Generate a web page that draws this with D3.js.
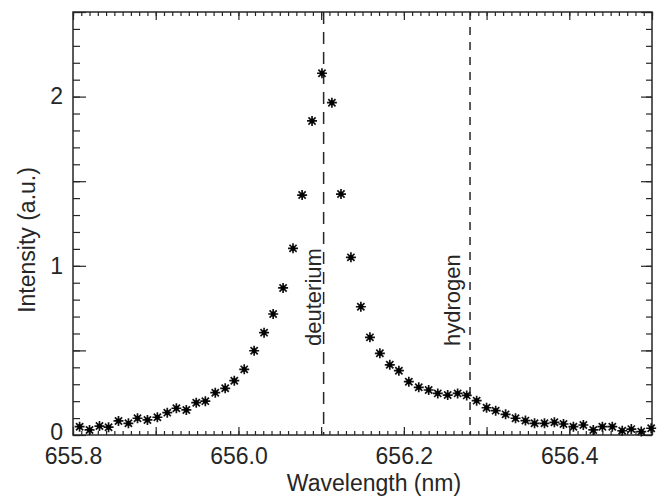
<!DOCTYPE html>
<html>
<head>
<meta charset="utf-8">
<script src="https://cdn.jsdelivr.net/npm/d3@7"></script>
<style>
  html, body { margin: 0; padding: 0; background: #fff; }
  svg { display: block; font-family: "Liberation Sans", Arial, sans-serif; }
</style>
</head>
<body>
<svg id="chart" width="658" height="496"></svg>
<script>
// ---- data ----
const wavelength = [
  655.808, 655.820, 655.832, 655.843, 655.855, 655.867, 655.878, 655.890, 655.902, 655.914,
  655.925, 655.937, 655.949, 655.960, 655.972, 655.984, 655.995, 656.007, 656.019, 656.031,
  656.042, 656.054, 656.066, 656.077, 656.089, 656.101, 656.113, 656.124, 656.136, 656.148,
  656.159, 656.171, 656.183, 656.194, 656.206, 656.218, 656.230, 656.241, 656.253, 656.265,
  656.276, 656.288, 656.300, 656.311, 656.323, 656.335, 656.347, 656.358, 656.370, 656.382,
  656.393, 656.405, 656.417, 656.429, 656.440, 656.452, 656.464, 656.475, 656.487, 656.499
];
const intensity = [
  0.049, 0.030, 0.053, 0.046, 0.083, 0.069, 0.099, 0.089, 0.105, 0.132,
  0.158, 0.148, 0.191, 0.200, 0.250, 0.276, 0.321, 0.388, 0.498, 0.605,
  0.715, 0.869, 1.103, 1.418, 1.856, 2.138, 1.964, 1.424, 1.050, 0.758,
  0.577, 0.483, 0.415, 0.380, 0.315, 0.282, 0.266, 0.246, 0.236, 0.246,
  0.234, 0.203, 0.161, 0.144, 0.122, 0.099, 0.085, 0.069, 0.069, 0.075,
  0.065, 0.049, 0.059, 0.030, 0.049, 0.049, 0.025, 0.035, 0.020, 0.040
];
const lineNames = ["deuterium", "hydrogen"];
const lineWavelengths = [656.103, 656.280];
const xMajorTicks = [655.8, 655.9, 656.0, 656.1, 656.2, 656.3, 656.4, 656.5];
const xLabelTicks = ["655.8", "656.0", "656.2", "656.4"];
const yMajorTicks = [0, 0.5, 1, 1.5, 2, 2.5];
const yLabelTicks = ["0", "1", "2"];
const xTitle = "Wavelength (nm)";
const yTitle = "Intensity (a.u.)";

// ---- layout ----
const L = 73, R = 652, T = 12, B = 435;
const ink = "#262626";
const fontSize = 23;

const svg = d3.select("#chart");
const x = d3.scaleLinear().domain([655.8, 656.5]).range([L, R]);
const y = d3.scaleLinear().domain([0, 2.5]).range([B, T]);

const xMinor = d3.range(0, 71).map(i => +(655.8 + i * 0.01).toFixed(2));
const yMinor = d3.range(0, 26).map(i => +(i * 0.1).toFixed(1));

function fmtX(d) {
  const s = d.toFixed(1);
  return xLabelTicks.includes(s) ? s : "";
}
function fmtY(d) {
  const s = String(d);
  return yLabelTicks.includes(s) ? s : "";
}

function styleAxis(g) {
  g.select(".domain").remove();
  g.selectAll(".tick line").attr("stroke", ink).attr("stroke-width", 1.2);
  g.selectAll(".tick text").attr("fill", ink).attr("font-size", fontSize)
    .attr("font-family", "'Liberation Sans', Arial, sans-serif");
}

// bottom axis
svg.append("g").attr("transform", `translate(0,${B})`)
  .call(d3.axisBottom(x).tickValues(xMinor).tickSize(-4).tickFormat(""))
  .call(styleAxis);
svg.append("g").attr("transform", `translate(0,${B})`)
  .call(d3.axisBottom(x).tickValues(xMajorTicks).tickSize(-8).tickPadding(13).tickFormat(fmtX))
  .call(styleAxis);
// top axis
svg.append("g").attr("transform", `translate(0,${T})`)
  .call(d3.axisTop(x).tickValues(xMinor).tickSize(-4).tickFormat(""))
  .call(styleAxis);
svg.append("g").attr("transform", `translate(0,${T})`)
  .call(d3.axisTop(x).tickValues(xMajorTicks).tickSize(-8).tickFormat(""))
  .call(styleAxis);
// left axis
svg.append("g").attr("transform", `translate(${L},0)`)
  .call(d3.axisLeft(y).tickValues(yMinor).tickSize(-7).tickFormat(""))
  .call(styleAxis);
const yLab = svg.append("g").attr("transform", `translate(${L},0)`)
  .call(d3.axisLeft(y).tickValues(yMajorTicks).tickSize(-13).tickPadding(10).tickFormat(fmtY))
  .call(styleAxis);
yLab.selectAll(".tick text").filter(d => d === 0).attr("y", -3);
// right axis
svg.append("g").attr("transform", `translate(${R},0)`)
  .call(d3.axisRight(y).tickValues(yMinor).tickSize(-6).tickFormat(""))
  .call(styleAxis);
svg.append("g").attr("transform", `translate(${R},0)`)
  .call(d3.axisRight(y).tickValues(yMajorTicks).tickSize(-11).tickFormat(""))
  .call(styleAxis);

// frame
svg.append("rect")
  .attr("x", L).attr("y", T).attr("width", R - L).attr("height", B - T)
  .attr("fill", "none").attr("stroke", ink).attr("stroke-width", 1.5);

// reference lines
const dashes = ["12,8", "8,7"];
const labelOffsets = [-3, -10];
lineWavelengths.forEach((w, i) => {
  svg.append("line")
    .attr("x1", x(w)).attr("x2", x(w))
    .attr("y1", T).attr("y2", B)
    .attr("stroke", ink).attr("stroke-width", 1.5)
    .attr("stroke-dasharray", dashes[i]);
  const tx = x(w) + labelOffsets[i];
  svg.append("text")
    .attr("transform", `translate(${tx},346) rotate(-90)`)
    .attr("text-anchor", "start")
    .attr("font-size", 22)
    .attr("fill", ink)
    .text(lineNames[i]);
});

// data markers (asterisks)
const star = "M-5,0L5,0M0,-5L0,5M-3.6,-3.6L3.6,3.6M-3.6,3.6L3.6,-3.6";
const pts = svg.append("g");
wavelength.forEach((w, i) => {
  const g = pts.append("g").attr("transform", `translate(${x(w)},${y(intensity[i])})`);
  g.append("path").attr("d", star).attr("stroke", "#111").attr("stroke-width", 1.7).attr("fill", "none");
  g.append("circle").attr("r", 2.4).attr("fill", "#000");
});

// titles
svg.append("text")
  .attr("x", 374).attr("y", 491)
  .attr("text-anchor", "middle")
  .attr("font-size", fontSize).attr("fill", ink)
  .text(xTitle);
svg.append("text")
  .attr("transform", "translate(35,240) rotate(-90)")
  .attr("text-anchor", "middle")
  .attr("font-size", fontSize).attr("fill", ink)
  .text(yTitle);
</script>
</body>
</html>
